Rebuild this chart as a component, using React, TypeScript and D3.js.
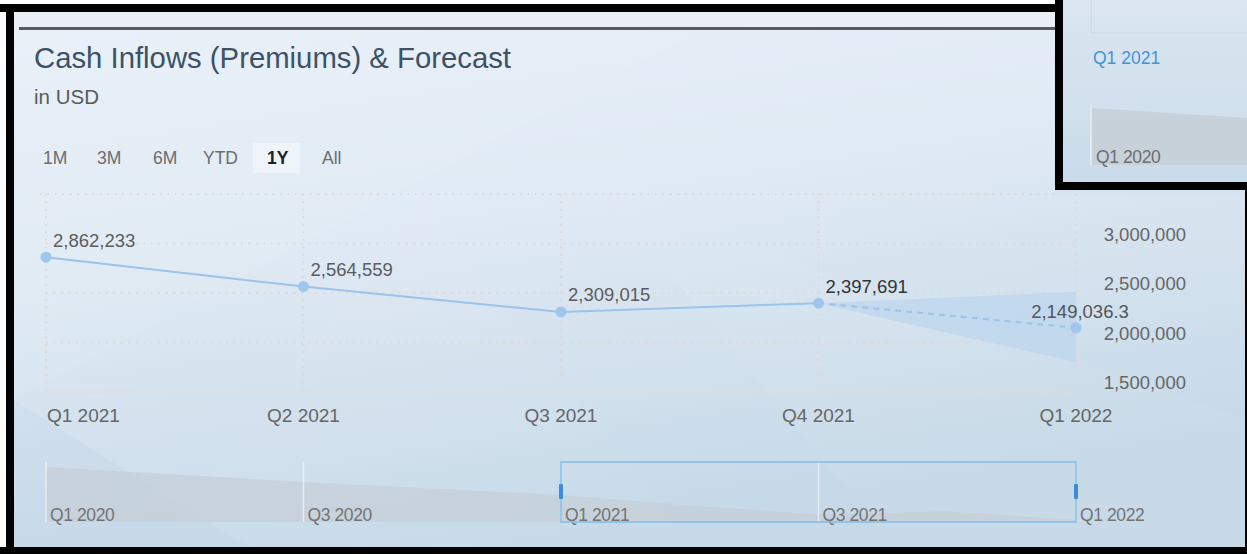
import React from "react";
import * as d3 from "d3";

const categories = ["Q1 2021", "Q2 2021", "Q3 2021", "Q4 2021", "Q1 2022"];
const actualValues = [2862233, 2564559, 2309015, 2397691];
const actualLabels = ["2,862,233", "2,564,559", "2,309,015", "2,397,691"];
const forecastValue = 2149036.3;
const forecastLabel = "2,149,036.3";
const forecastUpper = 2510000;
const forecastLower = 1800000;
const yTicks = [1500000, 2000000, 2500000, 3000000];
const yTop = 3500000;

const navCategories = ["Q1 2020", "Q2 2020", "Q3 2020", "Q4 2020", "Q1 2021", "Q2 2021", "Q3 2021", "Q4 2021", "Q1 2022"];
const navValues = [3660000, 3450000, 3230000, 3050000, 2862233, 2564559, 2309015, 2397691, 2149036];
const navTickLabels = ["Q1 2020", "Q3 2020", "Q1 2021", "Q3 2021", "Q1 2022"];
const rangeButtons = ["1M", "3M", "6M", "YTD", "1Y", "All"];
const activeButton = "1Y";

const W = 1247;
const H = 554;
const FONT = "'Liberation Sans', Arial, sans-serif";
const buttonX = [43, 97, 153, 203, 267, 322];

export default function App() {
  const x = d3.scalePoint<string>().domain(categories).range([46, 1076]);
  const y = d3.scaleLinear().domain([1500000, yTop]).range([392, 194]);
  const nx = d3.scalePoint<string>().domain(navCategories).range([46, 1076]);
  const ny = d3.scaleLinear().domain([2092000, 3804000]).range([522, 462]);

  const actualPts = actualValues.map((v, i) => [x(categories[i])!, y(v)] as [number, number]);
  const lastX = x(categories[4])!;
  const q4X = x(categories[3])!;

  const line = d3.line();
  const bandArea = d3
    .area<{ x: number; lo: number; hi: number }>()
    .x((d) => d.x)
    .y0((d) => y(d.lo))
    .y1((d) => y(d.hi));
  const bandData = [
    { x: q4X, lo: actualValues[3], hi: actualValues[3] },
    { x: lastX, lo: forecastLower, hi: forecastUpper },
  ];

  const navArea = d3
    .area<number>()
    .x((_, i) => nx(navCategories[i])!)
    .y0(522)
    .y1((d) => ny(d));

  const gridColor = "#e3d3c8";
  const selX0 = nx("Q1 2021")!;
  const selX1 = nx("Q1 2022")!;
  const LF = 18.5;

  return (
    <svg
      width={W}
      height={H}
      style={{ position: "absolute", left: 0, top: 0, fontFamily: FONT }}
    >
      <defs>
        <linearGradient id="bg" x1="0" y1="0" x2="0.35" y2="1">
          <stop offset="0" stopColor="#e9f1f9" />
          <stop offset="0.45" stopColor="#e0eaf4" />
          <stop offset="1" stopColor="#c6d9e8" />
        </linearGradient>
        <linearGradient id="popbg" x1="0" y1="0" x2="0" y2="1">
          <stop offset="0" stopColor="#dbe6f0" />
          <stop offset="1" stopColor="#c9dcea" />
        </linearGradient>
        <linearGradient id="shadow" x1="0" y1="0" x2="0" y2="1">
          <stop offset="0" stopColor="#000" stopOpacity="0.35" />
          <stop offset="1" stopColor="#000" stopOpacity="0" />
        </linearGradient>
      </defs>

      {/* page background */}
      <rect x={0} y={0} width={W} height={H} fill="#ffffff" />
      <rect x={6} y={4} width={W - 6} height={H - 4} fill="url(#bg)" />
      {/* subtle diagonal streaks */}
      <polygon points="150,554 420,200 700,554" fill="#ffffff" opacity={0.03} />
      <polygon points="600,190 1247,420 1247,554 900,554" fill="#ffffff" opacity={0.04} />
      <polygon points="13,400 260,554 13,554" fill="#b8cfe2" opacity={0.18} />
      <polygon points="13,30 700,30 13,400" fill="#ffffff" opacity={0.05} />

      {/* frame */}
      <rect x={0} y={4} width={W} height={8} fill="#000" />
      <rect x={6} y={4} width={8} height={H - 4} fill="#000" />
      <rect x={0} y={547} width={W} height={7} fill="#000" />
      <rect x={1245} y={190} width={2} height={H - 190} fill="#000" />
      <rect x={14} y={12} width={1050} height={15} fill="#e9eff5" />
      <rect x={19} y={27} width={1040} height={3} fill="#5a5a5a" />

      {/* title */}
      <text x={34} y={68} fontSize={29.3} fill="#3d5267">
        Cash Inflows (Premiums) &amp; Forecast
      </text>
      <text x={34} y={104} fontSize={20.5} fill="#5a5a5a">
        in USD
      </text>

      {/* range buttons */}
      <rect x={253} y={143} width={47} height={30} fill="#eef4fa" opacity={0.9} />
      {rangeButtons.map((b, i) => (
        <text
          key={b}
          x={buttonX[i]}
          y={164}
          fontSize={17.5}
          fill={b === activeButton ? "#222" : "#6d6d6d"}
          fontWeight={b === activeButton ? 700 : 400}
        >
          {b}
        </text>
      ))}

      {/* grid */}
      {[...yTicks.slice(1), yTop].map((t) => (
        <line
          key={t}
          x1={t === yTop ? 40 : x(categories[0])!}
          x2={t === yTop ? 1060 : lastX}
          y1={y(t)}
          y2={y(t)}
          stroke={gridColor}
          strokeWidth={1.5}
          strokeDasharray="1.5,6"
        />
      ))}
      {categories.map((c) => (
        <line
          key={c}
          x1={x(c)!}
          x2={x(c)!}
          y1={y(yTop)}
          y2={y(1500000)}
          stroke={gridColor}
          strokeWidth={1.5}
          strokeDasharray="1.5,6"
        />
      ))}
      <line x1={x(categories[0])!} x2={lastX} y1={y(1500000)} y2={y(1500000)} stroke="#e6dad3" strokeWidth={1} />

      {/* forecast band */}
      <path d={bandArea(bandData) || ""} fill="#bcd5ee" opacity={0.75} />
      {/* actual line */}
      <path d={line(actualPts) || ""} fill="none" stroke="#9cc3ea" strokeWidth={2} />
      {/* forecast dashed */}
      <path
        d={line([actualPts[3], [lastX, y(forecastValue)]]) || ""}
        fill="none"
        stroke="#9cc3ea"
        strokeWidth={2}
        strokeDasharray="6,5"
      />
      {actualPts.map((p, i) => (
        <circle key={i} cx={p[0]} cy={p[1]} r={5.5} fill="#9fc6ec" />
      ))}
      <circle cx={lastX} cy={y(forecastValue)} r={5.5} fill="#9fc6ec" />

      {/* data labels */}
      {actualPts.map((p, i) => (
        <text
          key={i}
          x={p[0] + 7}
          y={p[1] - 17}
          dy="0.35em"
          fontSize={LF}
          fill={i === 3 ? "#333" : "#5c5c5c"}
        >
          {actualLabels[i]}
        </text>
      ))}
      <text x={lastX + 4} y={y(forecastValue) - 16} dy="0.35em" fontSize={LF} fill="#555" textAnchor="middle">
        {forecastLabel}
      </text>

      {/* y axis labels */}
      {yTicks.map((t) => (
        <text key={t} x={1186} y={y(t) - 9} dy="0.35em" fontSize={LF} fill="#666" textAnchor="end">
          {d3.format(",")(t)}
        </text>
      ))}

      {/* x axis labels */}
      {categories.map((c, i) => (
        <text
          key={c}
          x={i === 0 ? x(c)! + 1 : x(c)!}
          y={422}
          fontSize={19}
          fill="#666"
          textAnchor={i === 0 ? "start" : "middle"}
        >
          {c}
        </text>
      ))}

      {/* navigator */}
      <path d={navArea(navValues) || ""} fill="#c4ccd4" opacity={0.6} />
      {navCategories.map((c, i) =>
        i % 2 === 0 ? (
          <line key={c} x1={nx(c)!} x2={nx(c)!} y1={462} y2={522} stroke="#eef3f8" strokeWidth={1.5} opacity={0.8} />
        ) : null
      )}
      {navTickLabels.map((l) => (
        <text key={l} x={nx(l)! + 4} y={521} fontSize={17.5} fill="#747474" letterSpacing={-0.4}>
          {l}
        </text>
      ))}
      <rect x={selX0} y={462} width={selX1 - selX0} height={60} fill="none" stroke="#80bce9" strokeWidth={1.5} />
      <rect x={selX0 - 2} y={484} width={4} height={15} rx={1} fill="#3a8fd8" />
      <rect x={selX1 - 2} y={484} width={4} height={15} rx={1} fill="#3a8fd8" />

      {/* overlapping popup */}
      <rect x={1055} y={0} width={W - 1055} height={198} fill="url(#shadow)" />
      <rect x={1055} y={0} width={W - 1055} height={190} fill="#000" />
      <rect x={1063} y={0} width={W - 1063} height={182} fill="url(#popbg)" />
      <rect x={1091} y={-2} width={170} height={35} fill="none" stroke="#cfd8e0" strokeWidth={1} />
      <text x={1093} y={58} dy="0.35em" fontSize={17.5} fill="#3f94dc" fontWeight={500}>
        Q1 2021
      </text>
      <polygon points="1091,108 1247,118 1247,165 1091,165" fill="#c6cfd7" opacity={0.85} />
      <line x1={1091} x2={1091} y1={105} y2={165} stroke="#e8eef4" strokeWidth={1.5} />
      <text x={1096} y={157} dy="0.35em" fontSize={17.5} fill="#6e6e6e" letterSpacing={-0.4}>
        Q1 2020
      </text>
    </svg>
  );
}
